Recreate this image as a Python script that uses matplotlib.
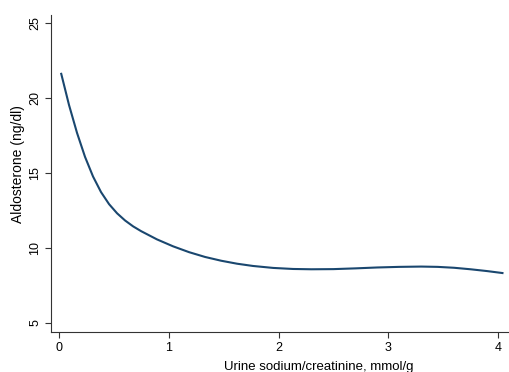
import numpy as np
import matplotlib.pyplot as plt

plt.rcParams["font.family"] = ["Liberation Sans", "DejaVu Sans"]

# fitted aldosterone curve vs urine sodium/creatinine
sodium = [0.018, 0.091, 0.164, 0.237, 0.310, 0.383, 0.456, 0.529, 0.602, 0.675,
          0.748, 0.893, 1.039, 1.185, 1.331, 1.477, 1.623, 1.768, 1.951, 2.133,
          2.30, 2.50, 2.70, 2.90, 3.10, 3.30, 3.45, 3.60, 3.75, 3.90, 4.05]
aldosterone = [21.67, 19.53, 17.67, 16.07, 14.76, 13.72, 12.92, 12.31, 11.83, 11.44,
               11.12, 10.57, 10.11, 9.72, 9.40, 9.15, 8.95, 8.80, 8.67, 8.60,
               8.58, 8.59, 8.64, 8.70, 8.74, 8.76, 8.74, 8.68, 8.58, 8.46, 8.32]

xticks = [0, 1, 2, 3, 4]
yticks = [5, 10, 15, 20, 25]

fig = plt.figure(figsize=(5.1, 3.72), dpi=100)
ax = fig.add_axes([0.1, 0.1075, 0.898, 0.8525])

ax.plot(sodium, aldosterone, color="#1a476f", lw=1.5,
        solid_capstyle="butt", solid_joinstyle="round")

ax.set_xlim(-0.073, 4.1)
ax.set_ylim(4.4, 25.53)
ax.set_xticks(xticks)
ax.set_yticks(yticks)
ax.tick_params(labelsize=9, length=4, width=0.8, color="#333333", pad=3)
for lab in ax.get_yticklabels():
    lab.set_rotation(90)
    lab.set_va("center")

for side in ("top", "right"):
    ax.spines[side].set_visible(False)
for side in ("left", "bottom"):
    ax.spines[side].set_color("#333333")
    ax.spines[side].set_linewidth(0.8)

ax.set_xlabel("Urine sodium/creatinine, mmol/g", fontsize=9.5)
ax.set_ylabel("Aldosterone (ng/dl)", fontsize=10)
ax.xaxis.set_label_coords(0.585, -0.09)
ax.yaxis.set_label_coords(-0.057, 0.53)

fig.savefig("out.png", dpi=100)
